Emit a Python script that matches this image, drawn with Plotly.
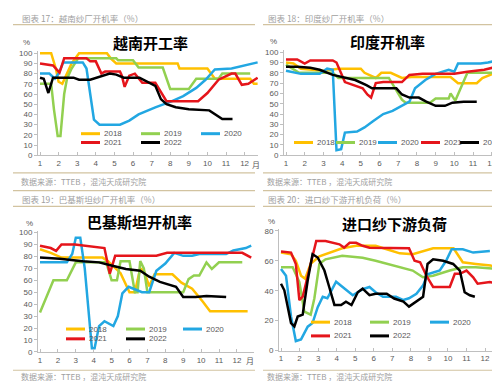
import plotly.graph_objects as go

W, H = 500, 381

YEARS = ["2018", "2019", "2020", "2021", "2022"]
COLORS = ["#FFC000", "#92D050", "#22A7E2", "#E5151B", "#000000"]
MONTHS = list(range(1, 13))
MONTH_LABELS = [str(m) for m in MONTHS]

# ---------------- 越南开工率 (%) ----------------
vn_2018_x = [1, 1.6, 1.85, 2.0, 2.2, 2.4, 2.7, 3.1, 4.6, 4.8, 5.1, 8.4, 8.5, 10.0, 10.2, 10.4, 12.3, 12.5, 12.7]
vn_2018_y = [100, 100, 85, 72, 70, 78, 90, 100, 100, 95, 90, 90, 85, 85, 80, 75, 75, 70, 70]
vn_2019_x = [1, 1.6, 1.75, 1.95, 2.1, 2.3, 2.45, 2.7, 3.05, 5.1, 5.2, 6.0, 6.3, 7.6, 8.0, 9.0, 9.4, 10.6, 10.8, 12.3]
vn_2019_y = [70, 70, 45, 19, 19, 60, 75, 85, 95, 95, 93, 93, 86, 86, 65, 65, 75, 75, 80, 80]
vn_2020_x = [1, 1.5, 1.8, 2.0, 2.25, 3.3, 3.5, 3.7, 3.9, 4.2, 5.3, 5.8, 6.3, 7.2, 8.1, 8.7, 9.4, 9.9, 10.4, 11.3, 12.0, 12.7]
vn_2020_y = [80, 80, 75, 80, 91, 91, 85, 60, 35, 30, 30, 34, 40, 47, 53, 58, 66, 74, 84, 85, 88, 91]
vn_2021_x = [1, 1.7, 2.05, 2.3, 3.5, 3.7, 4.0, 4.3, 4.5, 5.3, 5.4, 5.55, 5.8, 6.1, 6.5, 7.2, 7.8, 9.5, 10.0, 10.6, 11.3, 11.5, 11.85, 12.2, 12.7]
vn_2021_y = [90, 88, 81, 95, 95, 92, 92, 80, 82, 82, 78, 67, 78, 80, 71, 71, 53, 53, 61, 74, 80, 80, 69, 70, 76]
vn_2022_x = [1, 1.2, 1.45, 1.7, 2.8, 3.1, 3.7, 4.2, 4.75, 5.1, 5.5, 6.35, 6.8, 7.2, 7.5, 7.8, 8.3, 9.0, 10.1, 10.4, 10.8, 11.35]
vn_2022_y = [76, 75, 61, 76, 76, 74, 74, 77, 80, 79, 76, 76, 72, 68, 55, 50, 47, 45, 44, 40, 35.5, 35.5]

# ---------------- 印度开机率 (%) ----------------
in_2018_x = [1, 1.4, 1.8, 3.0, 3.8, 5.0, 5.2, 5.8, 6.1, 6.6, 7.2, 7.7, 9.8, 10.2, 11.2, 11.5, 12.2, 12.4]
in_2018_y = [90, 89, 84, 82, 84, 84, 80, 75, 80, 80, 75, 76, 76, 70, 70, 75, 80, 80]
in_2019_x = [1, 1.7, 3.5, 3.8, 6.5, 7.2, 7.4, 8.7, 9.0, 9.7, 9.8, 10.05, 10.7, 12.2]
in_2019_y = [88, 80, 80, 75, 75, 54, 51, 51, 55, 55, 60, 53, 80, 80]
in_2020_x = [1, 1.8, 2.8, 3.2, 3.5, 3.7, 3.95, 4.15, 4.8, 5.2, 5.65, 6.2, 6.7, 7.2, 7.6, 7.9, 8.45, 9.0, 9.7, 10.0, 10.2, 11.4, 11.8, 12.3, 12.6]
in_2020_y = [82, 79, 79, 84, 83, 5, 6, 22, 23, 27, 33, 40, 43, 48, 52, 65, 73, 79, 83, 81, 89, 89, 90, 92, 95]
in_2021_x = [1, 1.6, 2.0, 2.3, 3.5, 3.7, 4.15, 4.6, 5.1, 5.35, 5.55, 5.8, 6.2, 7.2, 7.6, 8.3, 10.0, 10.7, 11.6, 12.3, 12.6]
in_2021_y = [93, 93, 89, 92, 92, 90, 71, 68, 65, 59, 56, 70, 71, 71, 78, 79, 79, 81, 83, 86, 87]
in_2022_x = [1, 1.6, 2.3, 2.8, 3.5, 4.2, 4.7, 5.3, 5.6, 6.9, 7.2, 7.6, 8.1, 8.5, 9.0, 9.5, 9.9, 10.5, 11.2]
in_2022_y = [86, 86, 85, 83, 78, 75, 73, 68, 65, 65, 59, 56, 56, 52, 48, 48, 51, 52, 52]

# ---------------- 巴基斯坦开机率 (%) ----------------
pk_2018_x = [1, 1.6, 2.2, 4.5, 4.8, 5.5, 6.0, 6.3, 6.6, 6.8, 7.1, 7.4, 8.4, 8.9, 9.5, 9.9, 10.1, 10.5, 12.6]
pk_2018_y = [86, 83, 79, 79, 76, 66, 50, 50, 70, 68, 55, 65, 65, 58, 53, 46, 42, 34, 34]
pk_2019_x = [1, 1.75, 2.5, 3.0, 4.7, 5.0, 5.3, 5.5, 6.0, 6.3, 6.45, 6.6, 6.8, 7.0, 9.0, 9.3, 9.6, 9.9, 10.3, 10.6, 11.0, 12.3]
pk_2019_y = [33, 60, 60, 75, 75, 60, 60, 76, 76, 50, 50, 76, 70, 50, 50, 61, 64, 64, 75, 69.5, 75, 75]
pk_2020_x = [1, 2.5, 2.8, 3.0, 3.25, 3.5, 3.9, 4.05, 4.3, 4.6, 5.1, 5.35, 5.6, 5.95, 6.7, 7.1, 7.5, 8.0, 8.5, 9.0, 9.5, 9.9, 11.4, 11.8, 12.5, 12.8]
pk_2020_y = [75, 75, 82, 95.6, 95.6, 70, 3, 3, 21.6, 25.7, 21.6, 30, 49, 54.5, 50, 50, 68, 74, 83, 80.5, 80.5, 82, 82, 85, 87, 89]
pk_2021_x = [1, 1.6, 1.9, 2.2, 2.95, 3.7, 4.6, 4.9, 5.2, 7.5, 8.1, 12.3, 12.8]
pk_2021_y = [89, 87, 84.6, 90, 90, 88.8, 87, 65.5, 80.5, 80.5, 83, 83, 79]
pk_2022_x = [1, 2.1, 3.4, 4.3, 5.1, 5.8, 6.6, 7.1, 7.7, 8.2, 8.6, 9.0, 9.7, 10.3, 11.4]
pk_2022_y = [79, 78, 76, 75, 72, 69.5, 68, 63, 58.6, 56, 54.5, 46, 46, 46.8, 46]

# ---------------- 进口纱下游负荷 (%) ----------------
im_2018_x = [1, 1.54, 1.8, 2.08, 2.3, 2.6, 3.07, 3.6, 4.3, 5.05, 6.1, 6.7, 7.4, 8.1, 8.65, 9.2, 10.3, 10.55, 10.8, 11.5, 12.3, 12.7]
im_2018_y = [65.5, 64.4, 60, 50, 48, 58, 63, 65.5, 68.4, 70, 70, 67.7, 65, 64.4, 66.6, 68.4, 68.4, 63.3, 59, 57.9, 56.8, 55.2]
im_2019_x = [1, 1.63, 1.99, 2.26, 2.6, 2.8, 3.07, 3.4, 4.3, 5.4, 6.1, 6.7, 7.4, 8.1, 8.65, 9.2, 10.1, 10.8, 11.5, 12.7]
im_2019_y = [55.7, 55.7, 45.8, 26, 24, 35, 58, 61, 63.3, 62, 60, 58, 55.7, 53.5, 49, 50, 53.5, 55.7, 55.7, 54.6]
im_2020_x = [1, 1.27, 1.54, 1.8, 2.08, 2.44, 2.7, 2.98, 3.25, 3.5, 3.97, 4.33, 4.87, 5.4, 5.77, 6.1, 6.5, 7.2, 7.6, 7.9, 8.3, 8.66, 8.9, 9.56, 9.9, 10.2, 10.8, 11.36, 12.26]
im_2020_y = [54.6, 50, 22.8, 6.4, 7.5, 16, 18.4, 29, 36, 35, 46, 42.5, 37, 41, 42.5, 39, 36, 36, 33.8, 35, 38, 43.6, 51, 53.5, 60, 67.7, 67.7, 65.5, 66.6]
im_2021_x = [1, 1.54, 1.8, 1.99, 2.17, 2.53, 2.9, 3.4, 4.15, 4.4, 4.7, 5.05, 5.4, 5.77, 6.5, 7.2, 7.9, 8.2, 8.5, 8.84, 9.2, 10.1, 10.37, 10.64, 11.0, 11.36, 11.6, 12.26, 12.7]
im_2021_y = [66.2, 65.5, 57.9, 33.8, 36, 53.5, 73.2, 73.2, 71, 68.8, 72, 72, 70, 68.8, 68.8, 68.8, 68.4, 60, 59, 50, 42.5, 42.5, 51.3, 51.3, 53.5, 49, 44.7, 45.8, 44.7]
im_2022_x = [1, 1.18, 1.54, 1.72, 1.9, 2.17, 2.44, 2.7, 2.98, 3.34, 3.6, 3.88, 4.24, 4.5, 4.8, 5.14, 5.4, 5.77, 6.1, 6.7, 7.1, 7.6, 7.9, 8.3, 8.66, 8.9, 9.2, 9.74, 10.28, 10.64, 10.9, 11.18, 11.45]
im_2022_y = [44.7, 40.3, 18.4, 16.2, 22.8, 24, 47, 64.4, 62.2, 53.5, 42.5, 30.5, 30.5, 32.7, 30.5, 39, 41.4, 37, 38, 38, 34.8, 32.7, 29.4, 32.7, 36, 57.9, 61, 60, 57.9, 53.5, 39, 37, 36]

# ---------------- text ----------------
HEADERS = ["图表 17：越南纱厂开机率（%）", "图表 18：印度纱厂开机率（%）",
           "图表 19：巴基斯坦纱厂开机率（%）", "图表 20：进口纱下游开机负荷（%）"]
TITLES = ["越南开工率", "印度开机率", "巴基斯坦开机率", "进口纱下游负荷"]
SOURCE = "数据来源：TTEB ，混沌天成研究院"
UNIT_Y = "%"
UNIT_X = "月"

SERIES = [
    [(vn_2018_x, vn_2018_y), (vn_2019_x, vn_2019_y), (vn_2020_x, vn_2020_y), (vn_2021_x, vn_2021_y), (vn_2022_x, vn_2022_y)],
    [(in_2018_x, in_2018_y), (in_2019_x, in_2019_y), (in_2020_x, in_2020_y), (in_2021_x, in_2021_y), (in_2022_x, in_2022_y)],
    [(pk_2018_x, pk_2018_y), (pk_2019_x, pk_2019_y), (pk_2020_x, pk_2020_y), (pk_2021_x, pk_2021_y), (pk_2022_x, pk_2022_y)],
    [(im_2018_x, im_2018_y), (im_2019_x, im_2019_y), (im_2020_x, im_2020_y), (im_2021_x, im_2021_y), (im_2022_x, im_2022_y)],
]

# ---------------- layout geometry (pixels) ----------------
GEOM = [
    dict(x0=30, x1=250, m1=32, step=18.6, ytop=44, ybot=148, ymax=100, dtick=10,
         tx=142, ty=33, pct=(18, 33), yue=(248, 157), hx=12, hy=8, fy=175,
         legend=[(126, [(0, 73), (1, 133), (2, 193)]), (135, [(3, 73), (4, 133)])]),
    dict(x0=276, x1=494, m1=278, step=18.7, ytop=43, ybot=148, ymax=100, dtick=10,
         tx=379, ty=32, pct=(265, 32), yue=(491, 157), hx=258, hy=8, fy=175,
         legend=[(135, [(0, 286), (1, 328), (2, 370), (3, 413), (4, 452)])]),
    dict(x0=30, x1=246, m1=32, step=17.9, ytop=226.7, ybot=348.3, ymax=100, dtick=10,
         tx=131, ty=215, pct=(21, 218), yue=(242, 357), hx=12, hy=193, fy=373,
         legend=[(325, [(0, 58), (1, 118), (2, 175)]), (335, [(3, 58), (4, 118)])]),
    dict(x0=271, x1=492, m1=273, step=18.55, ytop=225, ybot=347, ymax=80, dtick=20,
         tx=386, ty=217, pct=(263, 215), yue=(489, 357), hx=258, hy=193, fy=373,
         legend=[(318, [(0, 303), (1, 362), (2, 422)]), (332, [(3, 303), (4, 362)])]),
]

AXIS = "#BFBFBF"
TICKFONT = dict(family="Liberation Sans, Arial, sans-serif", size=8, color="#595959")
CJK = "Noto Sans CJK SC, sans-serif"
RULE = "#D2C3A0"
GREY_TXT = "#A0A0A0"


def px(x):
    return x / W


def py(y):
    return 1 - y / H


fig = go.Figure()
layout = dict(width=W, height=H, margin=dict(l=0, r=0, t=0, b=0),
              paper_bgcolor="white", plot_bgcolor="white", showlegend=False)
annotations = []
shapes = []

for i, g in enumerate(GEOM):
    ax = "" if i == 0 else str(i + 1)
    for k, yr in enumerate(YEARS):
        xs, ys = SERIES[i][k]
        fig.add_trace(go.Scatter(x=xs, y=ys, mode="lines", name=yr, showlegend=False,
                                 line=dict(color=COLORS[k], width=2.5),
                                 xaxis="x" + ax, yaxis="y" + ax, hoverinfo="skip"))
    xr = [1 - (g["m1"] - g["x0"]) / g["step"], 1 + (g["x1"] - g["m1"]) / g["step"]]
    pad_px = 2.0
    unit = g["ymax"] / (g["ybot"] - g["ytop"])
    layout["xaxis" + ax] = dict(domain=[px(g["x0"]), px(g["x1"])], range=xr,
                                tickmode="array", tickvals=MONTHS, ticktext=MONTH_LABELS,
                                anchor="y" + ax, showline=True, linecolor=AXIS, linewidth=1,
                                ticks="inside", ticklen=3, tickcolor=AXIS, showgrid=False,
                                zeroline=False, tickfont=TICKFONT, fixedrange=True)
    layout["yaxis" + ax] = dict(domain=[py(g["ybot"]), py(g["ytop"] - pad_px)],
                                range=[0, g["ymax"] + pad_px * unit],
                                tickmode="linear", tick0=0, dtick=g["dtick"],
                                anchor="x" + ax, showline=True, linecolor=AXIS, linewidth=1,
                                ticks="outside", ticklen=3, tickcolor=AXIS, showgrid=False,
                                zeroline=False, tickfont=TICKFONT, fixedrange=True)
    # chart title
    annotations.append(dict(x=px(g["tx"]), y=py(g["ty"]), xref="paper", yref="paper",
                            text="<b>" + TITLES[i] + "</b>", showarrow=False,
                            font=dict(family=CJK, size=15, color="#000000"),
                            xanchor="center", yanchor="middle"))
    # unit labels
    annotations.append(dict(x=px(g["pct"][0]), y=py(g["pct"][1]), xref="paper", yref="paper",
                            text=UNIT_Y, showarrow=False, font=TICKFONT,
                            xanchor="center", yanchor="middle"))
    annotations.append(dict(x=px(g["yue"][0]), y=py(g["yue"][1]), xref="paper", yref="paper",
                            text=UNIT_X, showarrow=False, borderpad=0,
                            font=dict(family=CJK, size=8, color="#595959"),
                            xanchor="center", yanchor="middle"))
    # header & source
    annotations.append(dict(x=px(g["hx"]), y=py(g["hy"]), xref="paper", yref="paper",
                            text=HEADERS[i], showarrow=False,
                            font=dict(family=CJK, size=8.5, color=GREY_TXT),
                            xanchor="left", yanchor="middle"))
    annotations.append(dict(x=px(g["hx"]), y=py(g["fy"]), xref="paper", yref="paper",
                            text=SOURCE, showarrow=False, borderpad=0,
                            font=dict(family=CJK, size=8, color=GREY_TXT),
                            xanchor="left", yanchor="middle"))
    # legend keys
    for (ly, items) in g["legend"]:
        for (k, lx) in items:
            shapes.append(dict(type="line", xref="paper", yref="paper",
                               x0=px(lx), x1=px(lx + 19), y0=py(ly), y1=py(ly),
                               line=dict(color=COLORS[k], width=3)))
            annotations.append(dict(x=px(lx + 21), y=py(ly), xref="paper", yref="paper",
                                    text=YEARS[k], showarrow=False, font=TICKFONT,
                                    xanchor="left", yanchor="middle"))

# horizontal rules
for yy in [15, 166, 184, 200, 367]:
    for (a, b) in [(5, 247), (255, 500)]:
        shapes.append(dict(type="line", xref="paper", yref="paper",
                           x0=px(a), x1=px(b), y0=py(yy), y1=py(yy),
                           line=dict(color=RULE, width=1.2)))

layout["annotations"] = annotations
layout["shapes"] = shapes
fig.update_layout(**layout)
fig.write_html("out.html")
